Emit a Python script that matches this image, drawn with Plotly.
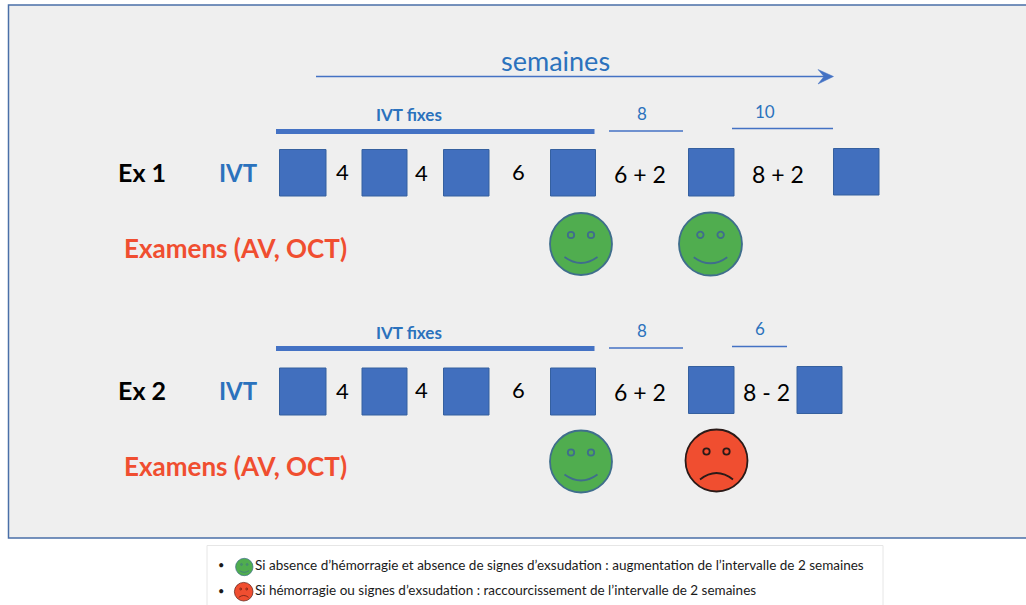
"""
Schéma du protocole IVT : deux exemples d'intervalles en semaines, dessinés dans un repère en pixels.
"""

import plotly.graph_objects as go

WIDTH = 1026
HEIGHT = 605

BLUE = "#4472c4"
TEXT_BLUE = "#2b72bd"
RED = "#f04e30"
GREEN = "#50ad4f"
FONT = "Lato"

# left, right, top, bottom of the injection squares
ex1_squares = [
    (279.5, 326, 149.5, 196), (362, 407, 149.5, 196), (443.5, 489, 149.5, 196),
    (550.5, 595.5, 149.5, 196), (688.5, 734, 148.5, 196), (833.5, 879, 148.5, 195),
]
ex2_squares = [
    (279.5, 326, 368, 415), (362, 407, 368, 415), (443.5, 489, 368, 415),
    (550.5, 595.5, 368, 415), (688.5, 734, 366.5, 413.5), (797, 842, 366.5, 413.5),
]

# x0, x1, y, width
thick_bars = [(276, 594.5, 131.5, 5), (276, 594.5, 348.5, 5)]
thin_lines = [
    (609, 683, 131, 1.4), (732, 833, 128.5, 1.4),
    (609, 683, 348, 1.4), (732, 787, 346.5, 1.4),
    (316, 826, 76.5, 1.4),
]

# cx, cy, r
happy_faces = [(581, 244, 31), (710.5, 244, 31.5), (581, 461.5, 31)]
sad_faces = [(716.5, 460.5, 31)]
legend_faces = [(244.3, 567, 8.7, GREEN, True), (243.7, 591.7, 9.3, RED, False)]

# text, x, y, size, colour, bold
labels = [
    ("semaines", 555, 60, 27, TEXT_BLUE, False),
    ("IVT fixes", 408.5, 114, 17, TEXT_BLUE, True),
    ("8", 642, 113, 17, TEXT_BLUE, False),
    ("10", 765, 111, 17, TEXT_BLUE, False),
    ("Ex 1", 142, 172, 25, "#000000", True),
    ("IVT", 238, 172, 24, TEXT_BLUE, True),
    ("4", 342, 171, 22, "#000000", False),
    ("4", 421, 172, 22, "#000000", False),
    ("6", 518, 171, 22, "#000000", False),
    ("6 + 2", 640, 174, 23, "#000000", False),
    ("8 + 2", 778, 174, 23, "#000000", False),
    ("Examens (AV, OCT)", 235.5, 248, 26, RED, True),
    ("IVT fixes", 408.5, 332, 17, TEXT_BLUE, True),
    ("8", 642, 330, 17, TEXT_BLUE, False),
    ("6", 760, 328, 17, TEXT_BLUE, False),
    ("Ex 2", 142, 390, 25, "#000000", True),
    ("IVT", 238, 390, 24, TEXT_BLUE, True),
    ("4", 342, 390, 22, "#000000", False),
    ("4", 421, 389, 22, "#000000", False),
    ("6", 518, 389, 22, "#000000", False),
    ("6 + 2", 640, 392, 23, "#000000", False),
    ("8 - 2", 766, 392, 23, "#000000", False),
    ("Examens (AV, OCT)", 235.5, 466, 26, RED, True),
]

legend_lines = [
    ("Si absence d’hémorragie et absence de signes d’exsudation : augmentation de l’intervalle de 2 semaines", 252.5, 564.5),
    ("Si hémorragie ou signes d’exsudation : raccourcissement de l’intervalle de 2 semaines", 252.5, 590),
]
bullets = [(220.5, 564), (220.5, 590)]


def rect(x0, x1, y0, y1, fill, line_color, line_width=1):
    return dict(type="rect", xref="x", yref="y", x0=x0, x1=x1, y0=y0, y1=y1,
                fillcolor=fill, line=dict(color=line_color, width=line_width))


def circle(cx, cy, r, fill, line_color, line_width):
    return dict(type="circle", xref="x", yref="y", x0=cx - r, x1=cx + r, y0=cy - r, y1=cy + r,
                fillcolor=fill, line=dict(color=line_color, width=line_width))


def face(cx, cy, r, fill, line_color, happy):
    # eyes and mouth scale with the radius of the face
    scale = r / 31
    eye_dx, eye_dy, eye_r = 10 * scale, -9 * scale, 3.2 * scale
    mouth_dx = 16.5 * scale
    if happy:
        mouth_y, ctrl_y = 13 * scale, 25 * scale
    else:
        mouth_y, ctrl_y = 19 * scale, 6 * scale
    width = max(scale * 1.8, 0.7)
    return [
        circle(cx, cy, r, fill, line_color, width),
        circle(cx - eye_dx, cy + eye_dy, eye_r, "rgba(0,0,0,0)", line_color, width),
        circle(cx + eye_dx, cy + eye_dy, eye_r, "rgba(0,0,0,0)", line_color, width),
        dict(type="path", xref="x", yref="y",
             path=f"M {cx - mouth_dx} {cy + mouth_y} Q {cx} {cy + ctrl_y} {cx + mouth_dx} {cy + mouth_y}",
             line=dict(color=line_color, width=width)),
    ]


shapes = [rect(8.5, 1040, 5, 538, "#efefef", "#4a6fa8", 1.5)]
shapes.append(rect(207, 883, 545.5, 620, "#ffffff", "#e6e6e6", 1))

for x0, x1, y0, y1 in ex1_squares + ex2_squares:
    shapes.append(rect(x0, x1, y0, y1, "#416fbe", "#35609f", 1))

for x0, x1, y, w in thick_bars + thin_lines:
    shapes.append(dict(type="line", xref="x", yref="y", x0=x0, x1=x1, y0=y, y1=y,
                       line=dict(color=BLUE, width=w)))

# head of the semaines arrow
shapes.append(dict(type="path", xref="x", yref="y", path="M 833.5 76.5 L 818 69.5 L 824 76.5 L 818 84 Z",
                   fillcolor=BLUE, line=dict(color=BLUE, width=0.5)))

for cx, cy, r in happy_faces:
    shapes += face(cx, cy, r, GREEN, "#3f6e8c", True)
for cx, cy, r in sad_faces:
    shapes += face(cx, cy, r, RED, "#2a1a18", False)
for cx, cy, r, fill, happy in legend_faces:
    shapes += face(cx, cy, r, fill, "#3f6e8c" if happy else "#5a1a10", happy)

annotations = []
for text, x, y, size, color, bold in labels:
    annotations.append(dict(
        x=x, y=y, xref="x", yref="y", text=f"<b>{text}</b>" if bold else text,
        showarrow=False, xanchor="center", yanchor="middle",
        font=dict(family=FONT, size=size, color=color),
    ))

for text, x, y in legend_lines:
    annotations.append(dict(
        x=x, y=y, xref="x", yref="y", text=text, showarrow=False,
        xanchor="left", yanchor="middle", font=dict(family=FONT, size=13.5, color="#1a1a1a"),
    ))

for x, y in bullets:
    annotations.append(dict(
        x=x, y=y, xref="x", yref="y", text="•", showarrow=False,
        font=dict(family=FONT, size=11, color="#1a1a1a"),
    ))

fig = go.Figure()
fig.update_layout(
    width=WIDTH,
    height=HEIGHT,
    margin=dict(l=0, r=0, t=0, b=0),
    paper_bgcolor="#ffffff",
    plot_bgcolor="#ffffff",
    showlegend=False,
    shapes=shapes,
    annotations=annotations,
    xaxis=dict(range=[0, WIDTH], visible=False, fixedrange=True),
    yaxis=dict(range=[HEIGHT, 0], visible=False, fixedrange=True),
)

# the page's default body margin would shift the picture by 8px
fig.write_html(
    "out.html",
    config={"displayModeBar": False},
    post_script="document.body.style.margin = '0'; document.body.style.overflow = 'hidden';",
)
